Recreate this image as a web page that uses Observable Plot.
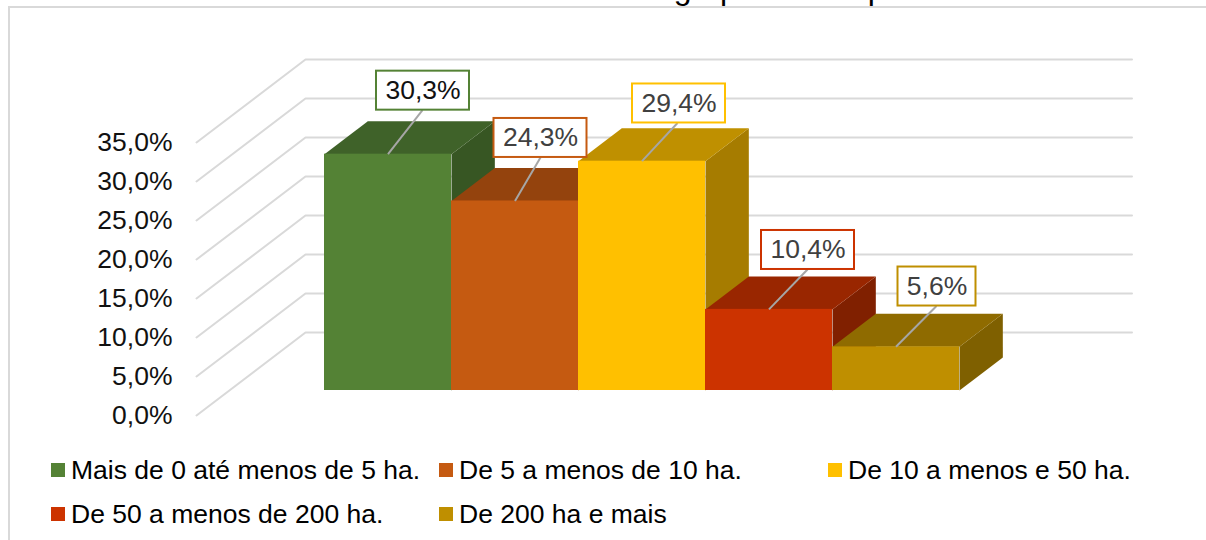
<!DOCTYPE html>
<html>
<head>
<meta charset="utf-8">
<script src="https://cdn.jsdelivr.net/npm/d3@7"></script>
<script src="https://cdn.jsdelivr.net/npm/@observablehq/plot@0.6"></script>
<style>
  html, body { margin: 0; padding: 0; background: #fff; overflow: hidden; }
  #page { position: relative; width: 1206px; height: 540px; overflow: hidden; font-family: "Liberation Sans", Arial, sans-serif; }
  #title { position: absolute; left: 18px; top: -27px; font-size: 32px; line-height: 30px; white-space: nowrap; color: #000; }
  #frame { position: absolute; left: 8px; top: 6px; width: 1300px; height: 700px; border: 2px solid #d9d9d9; box-sizing: border-box; background: #fff; }
  #chart { position: absolute; left: 0; top: 0; }
  #chart svg { display: block; background: transparent; }
  #legend { position: absolute; left: 0; top: 448px; width: 1206px; height: 92px; font-size: 26.5px; color: #000; }
  .item { position: absolute; white-space: nowrap; line-height: 44px; height: 44px; }
  .sw { position: absolute; width: 14px; height: 14px; top: 15px; left: 0; }
  .lab { position: absolute; left: 20px; top: 0; }
</style>
</head>
<body>
<div id="page">
  <div id="title"></div>
  <div id="frame"></div>
  <div id="chart"></div>
  <div id="legend"></div>
</div>
<script>
// Data
const categories = ["Mais de 0 até menos de 5 ha.", "De 5 a menos de 10 ha.", "De 10 a menos e 50 ha.", "De 50 a menos de 200 ha.", "De 200 ha e mais"];
const values = [30.3, 24.3, 29.4, 10.4, 5.6];
const valueLabels = ["30,3%", "24,3%", "29,4%", "10,4%", "5,6%"];
const tickValues = [0, 5, 10, 15, 20, 25, 30, 35];
const tickLabels = ["0,0%", "5,0%", "10,0%", "15,0%", "20,0%", "25,0%", "30,0%", "35,0%"];
const titleText = "Gráfico 11 - Percentual de estabelecimentos agropecuários por faixa de área";

// Colours
const frontColors = ["#548235", "#C55A11", "#FFC000", "#CC3300", "#BF8F00"];
const topColors = ["#3F6229", "#94430D", "#BF9000", "#992600", "#8F6B00"];
const sideColors = ["#375623", "#843C0C", "#A67C00", "#802000", "#7F6000"];
const labelTextColors = ["#111111", "#404040", "#404040", "#404040", "#404040"];

// Layout: pixels per data unit of the two scales, and 3D offsets in pixels
const pxPerBar = 127, pxPerPct = 7.8;
const wallX = 109, wallY = 83;      // floor front edge to wall
const barZ0 = 25 / 83, barZ1 = 58 / 83; // bar front and back planes, as depth fraction
const labelOffX = [35, 25.5, 37, 39, 41];
const labelOffY = [-63.5, -63, -57.7, -59.4, -60.3];
const leaderTopX = [34.5, 25.5, 35.5, 38.5, 40.5];
const labelHalfW = [46.5, 46.5, 46.5, 46.5, 39];
const labelHalfH = 19.5;

// Project (bar position, percent, depth) into the flat x/y scales
const X = (b, z) => b + ((z - barZ0) * wallX) / pxPerBar;
const Y = (v, z) => v + ((z - barZ0) * wallY) / pxPerPct;
const dxU = (p) => p / pxPerBar;
const dyU = (p) => -p / pxPerPct;

const gridLines = tickValues.flatMap((t) => [
  {t, x: X(-0.0, 0) + dxU(-(324 - 196) + (25 / 83) * 109), y: Y(t, 0)},
  {t, x: X(0, 1) + dxU(-(324 - 196) + (25 / 83) * 109), y: Y(t, 1)},
  {t, x: dxU(1131.5 - 324), y: Y(t, 1)}
]);
const axisX = gridLines[0].x;

const bars = values.map((v, i) => ({i, v, name: categories[i]}));
const poly = (fn) => bars.flatMap((d) => fn(d).map(([x, y]) => ({i: d.i, x, y})));
const sides = poly((d) => [
  [X(d.i + 1, barZ0), Y(0, barZ0)], [X(d.i + 1, barZ1), Y(0, barZ1)],
  [X(d.i + 1, barZ1), Y(d.v, barZ1)], [X(d.i + 1, barZ0), Y(d.v, barZ0)]
]);
const tops = poly((d) => [
  [X(d.i, barZ0), Y(d.v, barZ0)], [X(d.i + 1, barZ0), Y(d.v, barZ0)],
  [X(d.i + 1, barZ1), Y(d.v, barZ1)], [X(d.i, barZ1), Y(d.v, barZ1)]
]);

const labels = bars.map((d) => {
  const cx = d.i + 0.5 + dxU(labelOffX[d.i]);
  const cy = d.v + dyU(labelOffY[d.i]);
  return {
    ...d, text: valueLabels[d.i], cx, cy,
    x1: cx - dxU(labelHalfW[d.i]), x2: cx + dxU(labelHalfW[d.i]),
    y1: cy - labelHalfH / pxPerPct, y2: cy + labelHalfH / pxPerPct,
    lx1: d.i + 0.5, ly1: d.v,
    lx2: d.i + 0.5 + dxU(leaderTopX[d.i]), ly2: cy - labelHalfH / pxPerPct
  };
});

// Paint each bar left to right: side, top, front
const barMarks = bars.flatMap((d) => [
  Plot.line(sides.filter((s) => s.i === d.i), {x: "x", y: "y", fill: sideColors[d.i], stroke: "none", curve: "linear-closed"}),
  Plot.line(tops.filter((s) => s.i === d.i), {x: "x", y: "y", fill: topColors[d.i], stroke: "none", curve: "linear-closed"}),
  Plot.rect([d], {x1: (r) => r.i, x2: (r) => r.i + 1, y1: 0, y2: (r) => r.v, fill: frontColors[d.i]})
]);

const chart = Plot.plot({
  width: 1206,
  height: 448,
  margin: 0,
  x: {type: "linear", domain: [0, 5], range: [324, 959], axis: null},
  y: {type: "linear", domain: [0, 35], range: [390, 117], axis: null},
  style: {background: "transparent", fontFamily: '"Liberation Sans", Arial, sans-serif'},
  marks: [
    Plot.line(gridLines, {x: "x", y: "y", z: "t", stroke: "#d9d9d9", strokeWidth: 2, curve: "linear"}),
    ...barMarks,
    Plot.link(labels, {x1: "lx1", y1: "ly1", x2: "lx2", y2: "ly2", stroke: "#a6a6a6", strokeWidth: 2}),
    Plot.rect(labels, {x1: "x1", x2: "x2", y1: "y1", y2: "y2", fill: "#fff", stroke: (d) => frontColors[d.i], strokeWidth: 2}),
    Plot.text(labels, {x: "cx", y: "cy", text: "text", fill: (d) => labelTextColors[d.i], fontSize: 26.5}),
    Plot.text(tickValues, {x: () => axisX, y: (t) => Y(t, 0), text: (t, i) => tickLabels[i], dx: -24, dy: 0.5, textAnchor: "end", fill: "#111", fontSize: 26.5})
  ]
});
document.getElementById("chart").appendChild(chart);

document.getElementById("title").textContent = titleText;

const legendPos = [[51, 0], [439, 0], [828, 0], [51, 44], [439, 44]];
const legend = d3.select("#legend");
categories.forEach((c, i) => {
  const it = legend.append("div").attr("class", "item")
    .style("left", legendPos[i][0] + "px").style("top", legendPos[i][1] + "px");
  it.append("span").attr("class", "sw").style("background", frontColors[i]);
  it.append("span").attr("class", "lab").text(c);
});
</script>
</body>
</html>
